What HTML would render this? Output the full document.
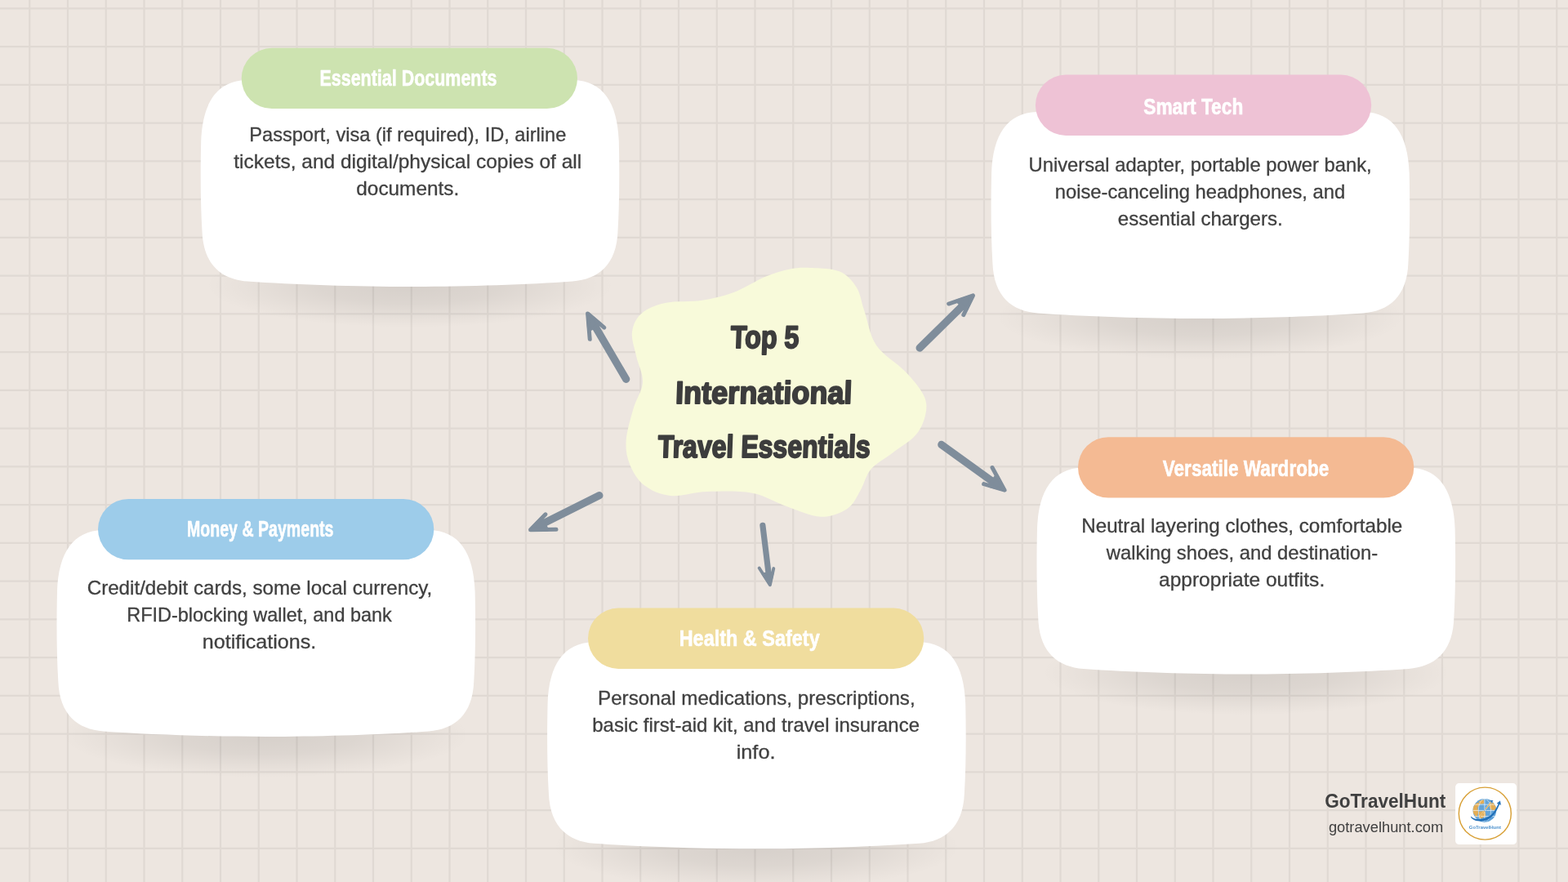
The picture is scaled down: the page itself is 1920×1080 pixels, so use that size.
<!DOCTYPE html>
<html lang="en">
<head>
<meta charset="utf-8">
<title>Top 5 International Travel Essentials</title>
<style>
html,body{margin:0;padding:0;width:1920px;height:1080px;overflow:hidden;background:#ede6e0;}
svg{display:block;position:absolute;left:0;top:0;will-change:transform;}
text{font-family:'Liberation Sans', sans-serif;}
.b{font-size:23.2px;fill:#404040;stroke:#404040;stroke-width:0.3px;}
.h{font-size:27.5px;font-weight:bold;fill:#fff;stroke:#fff;stroke-width:0.6px;stroke-linejoin:round;}
.t{font-size:38.5px;font-weight:bold;fill:#3d3d3d;stroke:#3d3d3d;stroke-width:2px;stroke-linejoin:round;}
.fb{font-size:23.3px;font-weight:bold;fill:#404040;}
.fs{font-size:18.3px;fill:#404040;}
</style>
</head>
<body>
<svg width="1920" height="1080" viewBox="0 0 1920 1080">
<defs>
<radialGradient id="sh"><stop offset="0" stop-color="#000" stop-opacity="0.098"/><stop offset="0.45" stop-color="#000" stop-opacity="0.07"/><stop offset="0.8" stop-color="#000" stop-opacity="0.025"/><stop offset="1" stop-color="#000" stop-opacity="0"/></radialGradient>
</defs>
<rect width="1920" height="1080" fill="#ede6e0"/>
<path d="M36.25 0V1080M83.00 0V1080M129.75 0V1080M176.50 0V1080M223.25 0V1080M270.00 0V1080M316.75 0V1080M363.50 0V1080M410.25 0V1080M457.00 0V1080M503.75 0V1080M550.50 0V1080M597.25 0V1080M644.00 0V1080M690.75 0V1080M737.50 0V1080M784.25 0V1080M831.00 0V1080M877.75 0V1080M924.50 0V1080M971.25 0V1080M1018.00 0V1080M1064.75 0V1080M1111.50 0V1080M1158.25 0V1080M1205.00 0V1080M1251.75 0V1080M1298.50 0V1080M1345.25 0V1080M1392.00 0V1080M1438.75 0V1080M1485.50 0V1080M1532.25 0V1080M1579.00 0V1080M1625.75 0V1080M1672.50 0V1080M1719.25 0V1080M1766.00 0V1080M1812.75 0V1080M1859.50 0V1080M1906.25 0V1080M0 10.40H1920M0 57.15H1920M0 103.90H1920M0 150.65H1920M0 197.40H1920M0 244.15H1920M0 290.90H1920M0 337.65H1920M0 384.40H1920M0 431.15H1920M0 477.90H1920M0 524.65H1920M0 571.40H1920M0 618.15H1920M0 664.90H1920M0 711.65H1920M0 758.40H1920M0 805.15H1920M0 851.90H1920M0 898.65H1920M0 945.40H1920M0 992.15H1920M0 1038.90H1920" stroke="#e0d9d3" stroke-width="2.2" fill="none"/>
<path d="M992.0 328.0C1002.2 328.4 1018.2 328.4 1027.7 332.3C1037.2 336.2 1043.6 343.6 1048.7 351.7C1053.8 359.8 1054.4 368.9 1058.4 380.8C1062.5 392.7 1064.7 410.4 1073.0 422.8C1081.3 435.2 1098.8 444.8 1108.5 455.0C1118.2 465.2 1126.8 475.4 1131.0 484.0C1135.2 492.6 1135.0 498.7 1133.4 506.8C1131.8 514.9 1128.2 524.6 1121.4 532.6C1114.6 540.6 1101.6 548.0 1092.4 555.0C1083.2 562.0 1073.0 567.0 1066.5 574.6C1060.0 582.2 1058.4 592.4 1053.6 600.5C1048.8 608.6 1045.5 617.6 1037.4 623.0C1029.3 628.4 1017.4 633.3 1005.0 632.8C992.6 632.3 977.0 624.9 963.0 620.0C949.0 615.1 937.2 606.7 921.0 603.7C904.8 600.7 882.7 601.5 866.0 602.0C849.3 602.5 833.9 608.3 821.0 607.0C808.1 605.7 797.0 600.5 788.6 594.0C780.2 587.5 774.5 577.2 770.9 568.0C767.2 558.8 765.9 550.3 766.7 539.0C767.5 527.7 772.3 511.8 775.7 500.0C779.1 488.2 786.5 478.7 787.0 468.0C787.5 457.3 781.2 445.9 779.0 435.7C776.8 425.5 772.9 415.2 774.0 406.6C775.1 398.0 778.6 389.9 785.4 384.0C792.1 378.1 802.1 373.7 814.5 371.0C826.9 368.3 845.7 370.0 859.7 367.8C873.7 365.6 885.6 362.8 898.5 358.0C911.4 353.2 925.9 343.5 937.2 338.8C948.5 334.1 957.2 331.5 966.3 329.7C975.4 327.9 981.8 327.6 992.0 328.0Z" fill="#f8fada"/>
<g transform="skewX(-2)">
<text class="t" x="909.20" y="426.40" textLength="83.80" lengthAdjust="spacingAndGlyphs">Top 5</text>
<text class="t" x="844.00" y="494.00" textLength="216.40" lengthAdjust="spacingAndGlyphs">International</text>
<text class="t" x="824.90" y="559.80" textLength="260.10" lengthAdjust="spacingAndGlyphs">Travel Essentials</text>
</g>
<g transform="translate(766.7 464.4) rotate(-120.34) scale(1 1)" fill="none" stroke="#7f8d9b" stroke-linecap="round" stroke-linejoin="round"><path d="M0 0L83.8 0" stroke-width="9.2"/><path d="M64.8 -13.6L93.2 0L68.2 8.8" stroke-width="5"/><path d="M74.8 -9L92.8 0L74.8 6.6Z" stroke-width="4" fill="#7f8d9b"/></g>
<g transform="translate(1126.1 426.1) rotate(-44.53) scale(1 1)" fill="none" stroke="#7f8d9b" stroke-linecap="round" stroke-linejoin="round"><path d="M0 0L82.3 0" stroke-width="9.2"/><path d="M63.3 -13.6L91.7 0L66.7 8.8" stroke-width="5"/><path d="M73.3 -9L91.3 0L73.3 6.6Z" stroke-width="4" fill="#7f8d9b"/></g>
<g transform="translate(1152.8 544.4) rotate(35.82) scale(1 1)" fill="none" stroke="#7f8d9b" stroke-linecap="round" stroke-linejoin="round"><path d="M0 0L85.9 0" stroke-width="9.2"/><path d="M66.9 -13.6L95.3 0L70.3 8.8" stroke-width="5"/><path d="M76.9 -9L94.9 0L76.9 6.6Z" stroke-width="4" fill="#7f8d9b"/></g>
<g transform="translate(933.9 643.4) rotate(83.00) scale(0.78 -0.78)" fill="none" stroke="#7f8d9b" stroke-linecap="round" stroke-linejoin="round"><path d="M0 0L84.7 0" stroke-width="9.2"/><path d="M65.7 -13.6L94.1 0L69.1 8.8" stroke-width="5"/><path d="M75.7 -9L93.7 0L75.7 6.6Z" stroke-width="4" fill="#7f8d9b"/></g>
<g transform="translate(733.9 606.7) rotate(153.46) scale(1 1)" fill="none" stroke="#7f8d9b" stroke-linecap="round" stroke-linejoin="round"><path d="M0 0L84.9 0" stroke-width="9.2"/><path d="M65.9 -13.6L94.3 0L69.3 8.8" stroke-width="5"/><path d="M75.9 -9L93.9 0L75.9 6.6Z" stroke-width="4" fill="#7f8d9b"/></g>
<ellipse cx="502.0" cy="349.0" rx="250" ry="52" fill="url(#sh)"/>
<path transform="translate(246 98)" d="M56 0L456 0C492 1 510 27 511.8 75C512.6 110 512.6 150 510.5 185C509 226 487 244 455 246.5C400 250.5 320 253 256 253C192 253 112 250.5 57 246.5C25 244 3 226 1.5 185C-0.6 150 -0.6 110 0.2 75C2 27 20 1 56 0Z" fill="#fff"/>
<rect x="295.7" y="58.8" width="411.3" height="74.3" rx="37.15" fill="#cde3b0"/>
<text class="h" x="391.50" y="105.00" textLength="217.00" lengthAdjust="spacingAndGlyphs">Essential Documents</text>
<text class="b" x="305.30" y="172.75" textLength="388.00" lengthAdjust="spacingAndGlyphs">Passport, visa (if required), ID, airline</text>
<text class="b" x="286.30" y="205.60" textLength="425.90" lengthAdjust="spacingAndGlyphs">tickets, and digital/physical copies of all</text>
<text class="b" x="436.30" y="238.75" textLength="125.90" lengthAdjust="spacingAndGlyphs">documents.</text>
<ellipse cx="1469.9" cy="388.1" rx="250" ry="52" fill="url(#sh)"/>
<path transform="translate(1213.9 137.1)" d="M56 0L456 0C492 1 510 27 511.8 75C512.6 110 512.6 150 510.5 185C509 226 487 244 455 246.5C400 250.5 320 253 256 253C192 253 112 250.5 57 246.5C25 244 3 226 1.5 185C-0.6 150 -0.6 110 0.2 75C2 27 20 1 56 0Z" fill="#fff"/>
<rect x="1267.9" y="91.6" width="411.3" height="74.3" rx="37.15" fill="#eec2d5"/>
<text class="h" x="1400.25" y="140.15" textLength="122.00" lengthAdjust="spacingAndGlyphs">Smart Tech</text>
<text class="b" x="1259.50" y="210.00" textLength="420.20" lengthAdjust="spacingAndGlyphs">Universal adapter, portable power bank,</text>
<text class="b" x="1291.70" y="242.90" textLength="355.50" lengthAdjust="spacingAndGlyphs">noise-canceling headphones, and</text>
<text class="b" x="1368.75" y="275.60" textLength="202.00" lengthAdjust="spacingAndGlyphs">essential chargers.</text>
<ellipse cx="1525.8" cy="823.5" rx="250" ry="52" fill="url(#sh)"/>
<path transform="translate(1269.8 572.5)" d="M56 0L456 0C492 1 510 27 511.8 75C512.6 110 512.6 150 510.5 185C509 226 487 244 455 246.5C400 250.5 320 253 256 253C192 253 112 250.5 57 246.5C25 244 3 226 1.5 185C-0.6 150 -0.6 110 0.2 75C2 27 20 1 56 0Z" fill="#fff"/>
<rect x="1320" y="535.2" width="411.3" height="74.3" rx="37.15" fill="#f4ba93"/>
<text class="h" x="1423.75" y="583.15" textLength="203.55" lengthAdjust="spacingAndGlyphs">Versatile Wardrobe</text>
<text class="b" x="1324.20" y="651.90" textLength="393.05" lengthAdjust="spacingAndGlyphs">Neutral layering clothes, comfortable</text>
<text class="b" x="1354.75" y="685.00" textLength="332.55" lengthAdjust="spacingAndGlyphs">walking shoes, and destination-</text>
<text class="b" x="1419.00" y="717.75" textLength="203.20" lengthAdjust="spacingAndGlyphs">appropriate outfits.</text>
<ellipse cx="926.4" cy="1037.3" rx="250" ry="52" fill="url(#sh)"/>
<path transform="translate(670.4 786.3)" d="M56 0L456 0C492 1 510 27 511.8 75C512.6 110 512.6 150 510.5 185C509 226 487 244 455 246.5C400 250.5 320 253 256 253C192 253 112 250.5 57 246.5C25 244 3 226 1.5 185C-0.6 150 -0.6 110 0.2 75C2 27 20 1 56 0Z" fill="#fff"/>
<rect x="720" y="744.6" width="411.3" height="74.3" rx="37.15" fill="#f0dd9e"/>
<text class="h" x="831.70" y="791.30" textLength="172.00" lengthAdjust="spacingAndGlyphs">Health &amp; Safety</text>
<text class="b" x="732.00" y="862.50" textLength="388.70" lengthAdjust="spacingAndGlyphs">Personal medications, prescriptions,</text>
<text class="b" x="725.30" y="895.60" textLength="400.70" lengthAdjust="spacingAndGlyphs">basic first-aid kit, and travel insurance</text>
<text class="b" x="901.70" y="928.50" textLength="47.80" lengthAdjust="spacingAndGlyphs">info.</text>
<ellipse cx="325.8" cy="900.0" rx="250" ry="52" fill="url(#sh)"/>
<path transform="translate(69.8 649)" d="M56 0L456 0C492 1 510 27 511.8 75C512.6 110 512.6 150 510.5 185C509 226 487 244 455 246.5C400 250.5 320 253 256 253C192 253 112 250.5 57 246.5C25 244 3 226 1.5 185C-0.6 150 -0.6 110 0.2 75C2 27 20 1 56 0Z" fill="#fff"/>
<rect x="120" y="611" width="411.3" height="74.3" rx="37.15" fill="#9dccea"/>
<text class="h" x="229.00" y="657.30" textLength="179.50" lengthAdjust="spacingAndGlyphs">Money &amp; Payments</text>
<text class="b" x="106.70" y="727.50" textLength="422.55" lengthAdjust="spacingAndGlyphs">Credit/debit cards, some local currency,</text>
<text class="b" x="155.30" y="760.60" textLength="324.50" lengthAdjust="spacingAndGlyphs">RFID-blocking wallet, and bank</text>
<text class="b" x="247.80" y="793.50" textLength="139.45" lengthAdjust="spacingAndGlyphs">notifications.</text>
<text class="fb" x="1622.20" y="988.75" textLength="148.10" lengthAdjust="spacingAndGlyphs">GoTravelHunt</text>
<text class="fs" x="1626.90" y="1018.60" textLength="140.35" lengthAdjust="spacingAndGlyphs">gotravelhunt.com</text>
<g transform="translate(1775 952) scale(0.083333)">
<rect x="85" y="85" width="900" height="900" rx="55" fill="#fff"/>
<circle cx="520" cy="530" r="384" fill="none" stroke="#d8a036" stroke-width="17"/>
<clipPath id="gl"><circle cx="515" cy="485" r="172"/></clipPath>
<circle cx="515" cy="485" r="172" fill="#62a4da"/>
<g clip-path="url(#gl)">
<path d="M340 480C345 420 380 375 425 365L445 400L412 440L422 520L402 585C365 560 338 520 340 480Z" fill="#e3ad55"/>
<path d="M425 352L500 325L508 382L452 392Z" fill="#e3ad55"/>
<path d="M428 500L522 490L532 560L468 605L428 572Z" fill="#e3ad55"/>
<path d="M578 400L640 368L690 440L662 482L600 470Z" fill="#e3ad55"/>
<path d="M515 313V657M343 485H687M360 398H670M360 572H670" stroke="#fff" stroke-width="9" stroke-opacity="0.85" fill="none"/>
<ellipse cx="515" cy="485" rx="92" ry="172" stroke="#fff" stroke-width="8" stroke-opacity="0.8" fill="none"/>
</g>
<path d="M438 588L612 358" stroke="#fff" stroke-width="20" stroke-opacity="0.7" stroke-linecap="round"/>
<path d="M440 586L610 360" stroke="#e3aa4c" stroke-width="14" stroke-linecap="round"/>
<circle cx="521" cy="481" r="13" fill="#fff" stroke="#3d86c6" stroke-width="6"/>
<path d="M596 332L642 338L616 372Z" fill="#2a74ba"/>
<path d="M470 642L600 592M505 658L645 592" stroke="#4c92d0" stroke-width="7" stroke-linecap="round"/>
<path d="M312 570C370 636 540 634 640 520C680 462 702 420 718 384L734 392C714 442 690 498 650 546C560 660 394 668 324 600C314 590 310 580 312 570Z" fill="#2270b8"/>
<path d="M742 344L696 380L752 402Z" fill="#2270b8" stroke="#2270b8" stroke-width="4" stroke-linejoin="round"/>
<text x="285" y="755" textLength="470" lengthAdjust="spacingAndGlyphs" font-weight="bold" font-size="68" fill="#3a85c8" fill-opacity="0.9">GoTravelHunt</text>
</g>
</svg>
</body>
</html>
